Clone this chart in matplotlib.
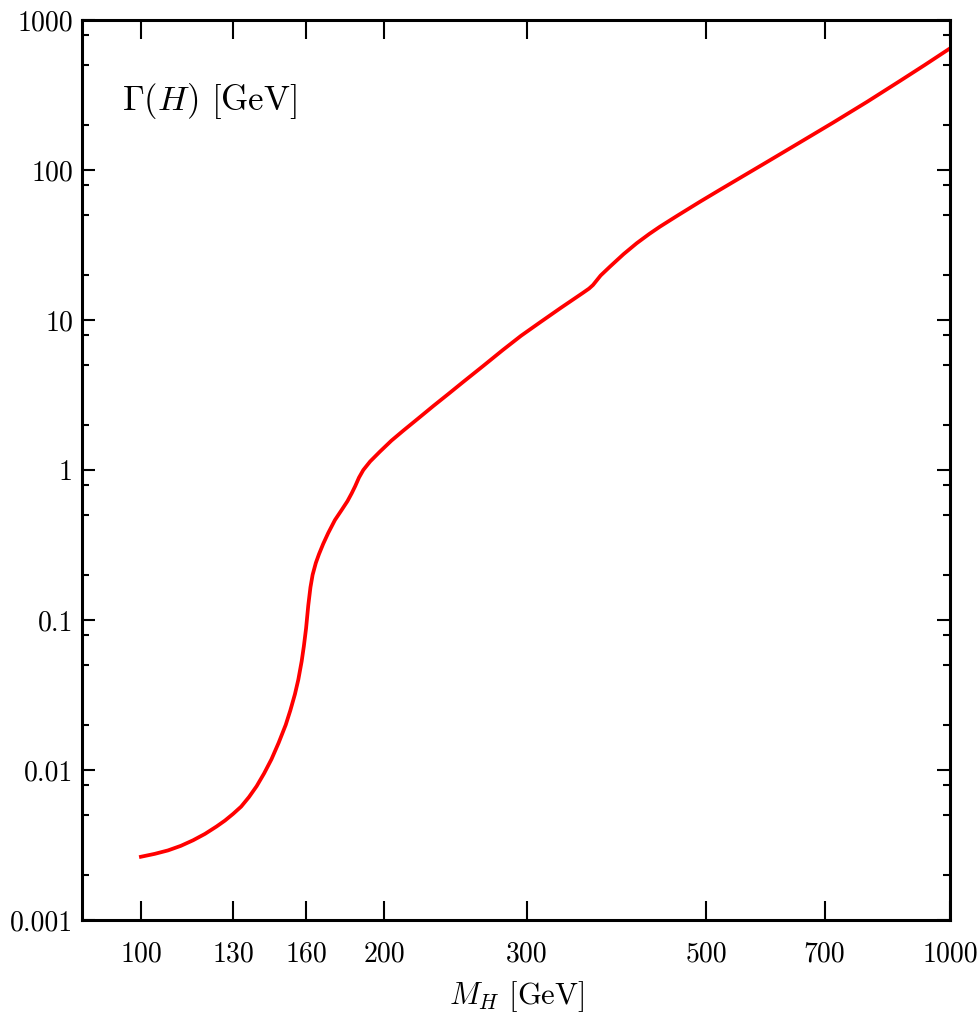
import matplotlib
matplotlib.use("Agg")
import matplotlib.pyplot as plt
from matplotlib.ticker import FixedLocator, FixedFormatter, NullFormatter

plt.rcParams['font.family'] = 'cmr10'
plt.rcParams['mathtext.fontset'] = 'cm'
plt.rcParams['axes.formatter.use_mathtext'] = True

# Higgs mass [GeV] and total width [GeV]
mass = [100, 104, 108, 112, 116, 120, 124, 127, 130, 133, 136, 139, 142,
        145, 148, 151, 153, 155, 156.5, 158, 159, 160, 161, 162, 163,
        164.5, 166, 168, 170.4, 173.7, 177, 180, 182.2, 184, 186, 188.3,
        192, 197.4, 204, 211, 220, 230, 240, 250, 265, 280, 295, 311, 330,
        352, 358, 362, 370, 380, 395, 410, 425, 438, 460, 491, 520, 550,
        593, 650, 717, 790, 867, 930, 1000]
width = [0.00264, 0.00276, 0.00291, 0.00312, 0.00340, 0.00375, 0.0042,
         0.0046, 0.0051, 0.0057, 0.0066, 0.0078, 0.0095, 0.0118, 0.0152,
         0.0200, 0.0250, 0.0320, 0.0400, 0.0530, 0.0670, 0.088, 0.125,
         0.165, 0.200, 0.240, 0.275, 0.322, 0.38, 0.464, 0.54, 0.62, 0.70,
         0.78, 0.89, 1.0, 1.14, 1.325, 1.57, 1.83, 2.2, 2.68, 3.22, 3.85,
         4.95, 6.3, 7.85, 9.6, 12.0, 15.2, 16.2, 17.1, 19.8, 22.7, 27.5,
         32.5, 37.5, 41.9, 49.5, 61.5, 74, 88.5, 112.5, 151, 207, 285, 392,
         500, 647]

xticks = [100, 130, 160, 200, 300, 500, 700, 1000]
xtick_labels = ['100', '130', '160', '200', '300', '500', '700', '1000']
yticks = [0.001, 0.01, 0.1, 1, 10, 100, 1000]
ytick_labels = ['0.001', '0.01', '0.1', '1', '10', '100', '1000']
yminor = [m * 10.0**e for e in range(-3, 3) for m in (2, 5, 8)]

fig = plt.figure(figsize=(9.79, 10.22), dpi=100)
ax = fig.add_axes([82/979, 1-920/1022, 868/979, 900/1022])

ax.plot(mass, width, color='#ff0000', lw=2.7, solid_joinstyle='round')

ax.set_xscale('log')
ax.set_yscale('log')
ax.set_xlim(84.56, 1000)
ax.set_ylim(0.001, 1000)

ax.xaxis.set_major_locator(FixedLocator(xticks))
ax.xaxis.set_major_formatter(FixedFormatter(xtick_labels))
ax.xaxis.set_minor_locator(FixedLocator([]))
ax.xaxis.set_minor_formatter(NullFormatter())
ax.yaxis.set_major_locator(FixedLocator(yticks))
ax.yaxis.set_major_formatter(FixedFormatter(ytick_labels))
ax.yaxis.set_minor_locator(FixedLocator(yminor))
ax.yaxis.set_minor_formatter(NullFormatter())

for s in ax.spines.values():
    s.set_linewidth(2.2)

ax.tick_params(axis='x', which='major', direction='in', top=True, bottom=True,
               length=13.5, width=1.5, labelsize=20, pad=15)
ax.tick_params(axis='y', which='major', direction='in', left=True, right=True,
               length=9.5, width=1.5, labelsize=20, pad=6.5)
ax.tick_params(axis='y', which='minor', direction='in', left=True, right=True,
               length=5, width=1.5)

ax.text((122-82)/868, (920-101)/900, r'$\Gamma(H)$ [GeV]', fontsize=25,
        ha='left', va='center', transform=ax.transAxes)
fig.text(517/979, 1-997/1022, r'$M_H$ [GeV]', fontsize=22,
         ha='center', va='center')

fig.savefig('out.png', dpi=100)
